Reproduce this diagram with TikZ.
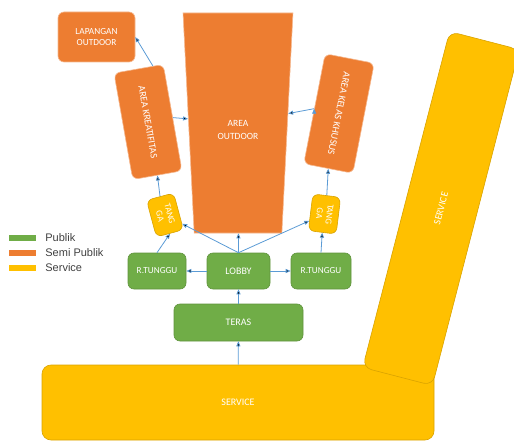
\documentclass[tikz,border=0pt]{standalone}
\usepackage{fontspec}
\setmainfont{Carlito}
\newfontfamily\legendfont{Liberation Sans}
\usetikzlibrary{positioning, shapes.geometric, arrows.meta}
\definecolor{publik}{HTML}{70AD47}
\definecolor{semipublik}{HTML}{ED7D31}
\definecolor{servis}{HTML}{FFC000}
\definecolor{panah}{HTML}{5B9BD5}
\tikzset{
  zone/.style={rounded corners=6pt, text=white, align=center, inner sep=1pt,
    line width=0.6pt, font=\fontsize{10}{11}\selectfont},
  pub/.style={zone, fill=publik, draw=publik!85!black},
  semi/.style={zone, fill=semipublik, draw=semipublik!55!white},
  serv/.style={zone, fill=servis, draw=servis!85!black},
  link/.style={-{Triangle[length=5pt,width=4pt]}, draw=panah, line width=0.8pt},
  legbar/.style={minimum width=27pt, minimum height=6pt, inner sep=0pt},
  legtext/.style={inner sep=0pt, text=black!75, font=\legendfont\fontsize{11}{12}\selectfont}
}

\begin{document}
\begin{tikzpicture}[x=1pt, y=-1pt]
\useasboundingbox (0,0) rectangle (514,441);

% service blocks
\node[serv, minimum width=392, minimum height=75, rounded corners=9pt] (servicebawah) at (238,402.5) {SERVICE};
\node[serv, minimum width=347, minimum height=72, rounded corners=9pt, rotate=75.5] (servicesamping) at (441,208.5) {SERVICE};

% semi publik
\node[semi, minimum width=77, minimum height=50, font=\fontsize{9.3}{11}\selectfont] (lapangan) at (96.5,37) {LAPANGAN\\OUTDOOR};
\node[fill=semipublik, draw=semipublik!55!white, line width=0.6pt, trapezium, trapezium stretches=true,
  shape border rotate=180, trapezium left angle=83.6, trapezium right angle=83.6,
  minimum width=110, minimum height=220, inner sep=2pt] (outdoor) at (238,123) {\phantom{X}};
\node[text=white, align=center, font=\fontsize{9.5}{13}\selectfont] (outdoorlabel) at (238,130) {AREA\\OUTDOOR};
\node[semi, minimum width=108, minimum height=50, rotate=-80] (kreatif) at (148,122) {AREA KREATIFITAS};
\node[semi, minimum width=112, minimum height=50, rotate=-101] (kelas) at (339,113.5) {AREA KELAS KHUSUS};

% tangga
\node[serv, minimum width=38, minimum height=28, rotate=-75, font=\fontsize{9}{10}\selectfont] (tanggakiri) at (165,215) {TANG\\GA};
\node[serv, minimum width=37, minimum height=28, rotate=-97, font=\fontsize{9}{10}\selectfont] (tanggakanan) at (324.5,214) {TANG\\GA};

% publik
\node[pub, minimum width=58, minimum height=36, font=\fontsize{9.2}{11}\selectfont] (tunggukiri) at (157,271) {R.TUNGGU};
\node[pub, minimum width=63, minimum height=36] (lobby) at (238.5,271) {LOBBY};
\node[pub, minimum width=60, minimum height=36, font=\fontsize{9.2}{11}\selectfont] (tunggukanan) at (321,271) {R.TUNGGU};
\node[pub, minimum width=129, minimum height=37] (teras) at (238.5,322.5) {TERAS};

% legend
\node[legbar, fill=publik] (legpublik) at (22.5,237.5) {};
\node[legbar, fill=semipublik] (legsemi) at (22.5,253) {};
\node[legbar, fill=servis] (legservis) at (22.5,268) {};
\node[legtext, right=9pt of legpublik] {Publik};
\node[legtext, right=9pt of legsemi] {Semi Publik};
\node[legtext, right=9pt of legservis] {Service};

% alur
\draw[link] (kreatif.165) edge (lapangan.east)
    (kreatif.north) edge (outdoor)
    (tanggakiri.west) edge (kreatif.east)
    (lobby.north) edge (tanggakiri)
    (lobby.north) edge (outdoor)
    (lobby.north) edge (tanggakanan)
    (lobby) edge (tunggukiri)
    (lobby) edge (tunggukanan)
    (tunggukiri.north) edge (tanggakiri.east)
    (tunggukanan.north) edge (tanggakanan.east)
    (tanggakanan.west) edge (kelas.east)
    (kelas.south) edge (outdoor)
    (teras) edge (lobby)
    (servicebawah) edge (teras);

\end{tikzpicture}
\end{document}
